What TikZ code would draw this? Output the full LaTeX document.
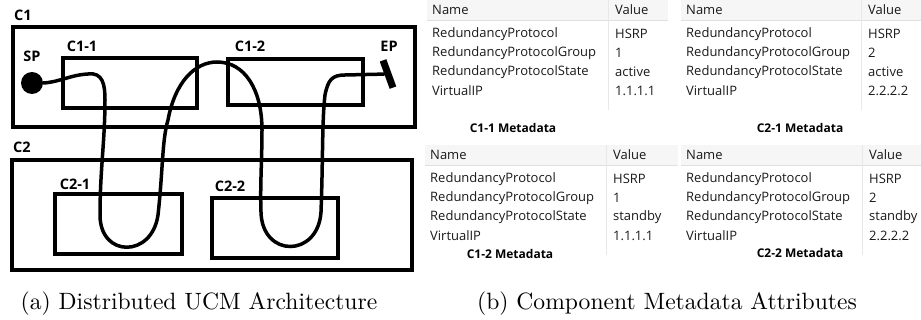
\documentclass[tikz,border=0pt]{standalone}
\usepackage{fontspec}
\setsansfont{Open Sans}
\usepackage{tikz}
\usetikzlibrary{positioning}

\tikzset{
  box/.style={line width=3.8pt},
  wire/.style={line width=3.5pt, line cap=round},
  lbl/.style={font=\sffamily\bfseries\fontsize{14.5}{16}\selectfont, inner sep=0},
  cell/.style={font=\sffamily\fontsize{13}{15}\selectfont, text=black!90, anchor=west, inner sep=0},
  metacap/.style={font=\sffamily\bfseries\fontsize{12}{14}\selectfont, inner sep=0},
  hdr/.style={fill=gray!7},
  hline/.style={draw=gray!25, line width=0.8pt},
  sepline/.style={draw=gray!18, line width=0.8pt},
  subcap/.style={scale=2.36, inner sep=0, anchor=base}
}

\begin{document}
\begin{tikzpicture}[x=1pt,y=-1pt]
\useasboundingbox (0,0) rectangle (921,320);

% (a) the architecture
\draw[box] (13,27) rectangle (415,127);
\draw[box] (63,58) rectangle (197,108);
\draw[box] (228,59) rectangle (363,105);
\draw[box] (12,160) rectangle (412,270);
\draw[box] (55,194) rectangle (182,254);
\draw[box] (212,198) rectangle (338,258);

\node[lbl, anchor=west] (c1) at (14,15) {C1};
\node[lbl] (c11) at (82,46) {C1-1};
\node[lbl] (c12) at (250,46) {C1-2};
\node[lbl, anchor=west] (c2) at (13,147) {C2};
\node[lbl] (c21) at (75,184) {C2-1};
\node[lbl] (c22) at (230,186) {C2-2};
\node[lbl] (sptxt) at (32,56) {SP};
\node[lbl] (eptxt) at (389,46) {EP};

\node[circle, fill, inner sep=0, minimum size=22pt] (sp) at (32,83) {};
\node[fill, inner sep=0, minimum width=7pt, minimum height=29pt, rotate=20] (ep) at (388,74) {};

\draw[wire] (sp.east) .. controls (60,82) and (70,75) .. (88,74)
  .. controls (103,72) and (105,85) .. (105,100)
  .. controls (105,140) and (100,170) .. (100,215)
  .. controls (100,258) and (152,258) .. (158,215)
  .. controls (163,170) and (162,140) .. (168,120)
  .. controls (175,82) and (195,62) .. (217,62)
  .. controls (245,62) and (262,90) .. (262,130)
  .. controls (262,160) and (260,185) .. (261,212)
  .. controls (262,258) and (318,258) .. (321,212)
  .. controls (323,160) and (322,120) .. (325,95)
  .. controls (328,80) and (332,75) .. (345,75) -- (ep);

% (b) the metadata tables
\foreach \nm/\tx/\ty/\vx/\rx/\grp/\st/\ip/\cx/\cy/\cn in
  {a/432/10/615/668/1/active/1.1.1.1/513/128/C1-1,
   b/686/10/868/925/2/active/2.2.2.2/800/128/C2-1,
   c/430/155/613/678/1/standby/1.1.1.1/510/254/C1-2,
   d/686/155/869/925/2/standby/2.2.2.2/800/253/C2-2}{
  \fill[hdr] (\tx-5,\ty-10) rectangle (\rx,\ty+10);
  \draw[hline] (\tx-5,\ty+10) -- (\rx,\ty+10);
  \draw[sepline] (\vx-7,\ty-10) -- (\vx-7,\ty+100);
  \node[cell] (\nm h1) at (\tx,\ty) {Name};
  \node[cell] (\nm h2) at (\vx,\ty) {Value};
  \node[cell] (\nm n1) at (\tx,\ty+24) {RedundancyProtocol};
  \node[cell] (\nm n2) at (\tx,\ty+43) {RedundancyProtocolGroup};
  \node[cell] (\nm n3) at (\tx,\ty+62) {RedundancyProtocolState};
  \node[cell] (\nm n4) at (\tx,\ty+81) {VirtualIP};
  \node[cell] (\nm v1) at (\vx,\ty+24) {HSRP};
  \node[cell] (\nm v2) at (\vx,\ty+43) {\grp};
  \node[cell] (\nm v3) at (\vx,\ty+62) {\st};
  \node[cell] (\nm v4) at (\vx,\ty+81) {\ip};
  \node[metacap] (\nm cap) at (\cx,\cy) {\cn\ Metadata};
}

% subfigure captions
\node[subcap] (capa) at (199,309) {(a) Distributed UCM Architecture};
\node[subcap] (capb) at (667,309) {(b) Component Metadata Attributes};
\end{tikzpicture}
\end{document}
